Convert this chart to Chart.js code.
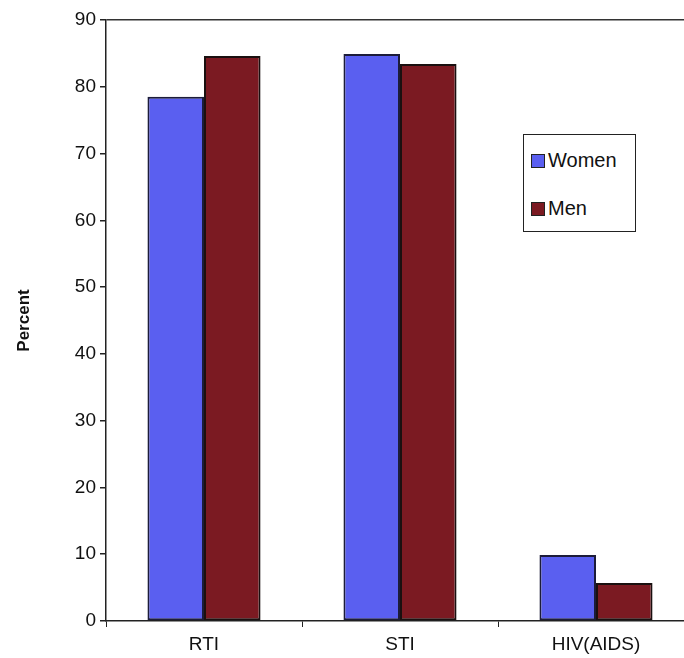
<!DOCTYPE html>
<html>
<head>
<meta charset="utf-8">
<script src="https://cdn.jsdelivr.net/npm/chart.js@4/dist/chart.umd.min.js"></script>
<style>
  html, body { margin: 0; padding: 0; background: #fff; overflow: hidden; }
  #wrap { position: relative; width: 694px; height: 658px; }
  #legend {
    position: absolute; left: 523px; top: 134px; width: 111px; height: 96px;
    border: 1.5px solid #222; background: #fff;
    font-family: "Liberation Sans", Arial, sans-serif; font-size: 20px; color: #111;
  }
  .item { position: absolute; left: 7px; display: flex; align-items: center; }
  .sw { width: 12px; height: 12px; border: 1px solid #222; margin-right: 3px; }
</style>
</head>
<body>
<div id="wrap">
  <canvas id="c" width="694" height="658"></canvas>
  <div id="legend"></div>
</div>
<script>
const categories = ["RTI", "STI", "HIV(AIDS)"];
const women = [78.5, 84.9, 9.9];
const men = [84.6, 83.4, 5.7];
const seriesNames = ["Women", "Men"];
const seriesColors = ["#5a5ff0", "#7b1a22"];

const data = {
    labels: categories,
    datasets: [
        {
            label: seriesNames[0],
            data: women,
            backgroundColor: seriesColors[0],
            borderColor: "#1c1c3a",
            borderWidth: 2,
            borderSkipped: false,
        },
        {
            label: seriesNames[1],
            data: men,
            backgroundColor: seriesColors[1],
            borderColor: "#1a1010",
            borderWidth: 2,
            borderSkipped: false,
        },
    ],
};

const font = { family: "'Liberation Sans', Arial, sans-serif", size: 19 };

const config = {
    type: "bar",
    data: data,
    options: {
        responsive: false,
        animation: false,
        layout: { padding: { top: 20, right: 0, left: 0, bottom: 0 } },
        categoryPercentage: 0.577,
        barPercentage: 1,
        plugins: { legend: { display: false }, tooltip: { enabled: false } },
        scales: {
            x: {
                grid: {
                    drawOnChartArea: false,
                    color: "#222",
                    tickLength: 6,
                },
                border: { color: "#222", width: 1.5 },
                ticks: { color: "#111", font: font, padding: 6 },
                afterFit: (s) => { s.height = 37; },
            },
            y: {
                min: 0,
                max: 90,
                ticks: { stepSize: 10, color: "#111", font: font, padding: 4 },
                grid: {
                    color: (ctx) => (ctx.tick && ctx.tick.value === 90 ? "#333" : "transparent"),
                    lineWidth: 1.5,
                    tickColor: "#222",
                    tickLength: 6,
                },
                border: { color: "#222", width: 1.5 },
                title: {
                    display: true,
                    text: "Percent",
                    color: "#111",
                    font: { family: font.family, size: 17, weight: "bold" },
                    padding: { top: 14, bottom: 0 },
                },
                afterFit: (s) => { s.width = 106; },
            },
        },
    },
};

const chart = new Chart(document.getElementById("c"), config);

// legend built from the datasets
const legend = document.getElementById("legend");
chart.data.datasets.forEach((ds, i) => {
    const item = document.createElement("div");
    item.className = "item";
    item.style.top = (i === 0 ? 14 : 62) + "px";
    const sw = document.createElement("span");
    sw.className = "sw";
    sw.style.background = ds.backgroundColor;
    item.appendChild(sw);
    item.appendChild(document.createTextNode(ds.label));
    legend.appendChild(item);
});
</script>
</body>
</html>
